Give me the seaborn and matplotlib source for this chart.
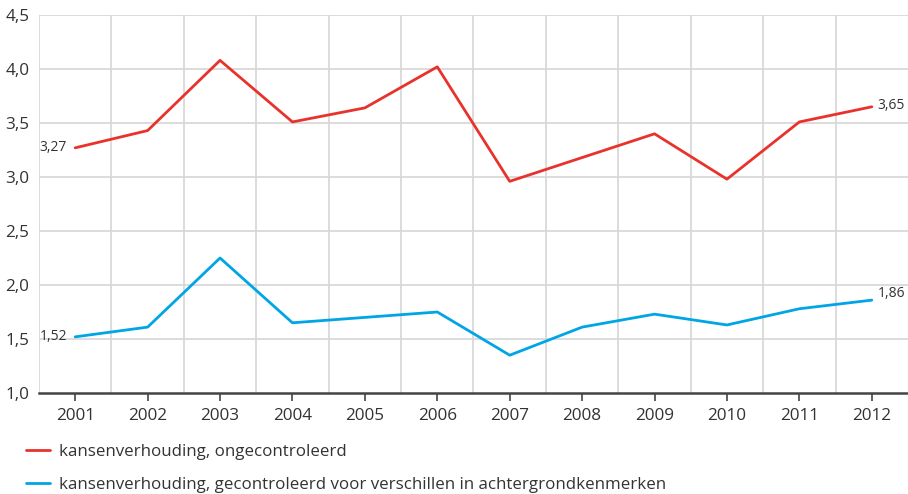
import matplotlib
matplotlib.use("Agg")
import matplotlib.pyplot as plt
import matplotlib.ticker as mticker
import seaborn as sns
import pandas as pd

# Data
years = ["2001", "2002", "2003", "2004", "2005", "2006",
         "2007", "2008", "2009", "2010", "2011", "2012"]
uncontrolled = [3.27, 3.43, 4.08, 3.51, 3.64, 4.02, 2.96, 3.18, 3.40, 2.98, 3.51, 3.65]
controlled = [1.52, 1.61, 2.25, 1.65, 1.70, 1.75, 1.35, 1.61, 1.73, 1.63, 1.78, 1.86]
series_names = [
    "kansenverhouding, ongecontroleerd",
    "kansenverhouding, gecontroleerd voor verschillen in achtergrondkenmerken",
]
y_ticks = [1.0, 1.5, 2.0, 2.5, 3.0, 3.5, 4.0, 4.5]

RED = "#e8322b"
BLUE = "#00a5e5"
TEXT = "#333333"
GRID = "#d6d6d6"

df = pd.DataFrame({
    "pos": list(range(len(years))) * 2,
    "value": uncontrolled + controlled,
    "serie": [series_names[0]] * len(years) + [series_names[1]] * len(years),
})

sns.set_theme(style="white")
plt.rcParams["font.family"] = ["Open Sans", "DejaVu Sans"]

fig = plt.figure(figsize=(9.08, 4.94), dpi=100)
ax = fig.add_axes([39 / 908, 101 / 494, 869 / 908, 378 / 494])

sns.lineplot(data=df, x="pos", y="value", hue="serie",
             palette=[RED, BLUE], linewidth=2.0, ax=ax, legend=True,
             zorder=3)

ax.set_xlim(-0.5, len(years) - 0.5)
ax.set_ylim(1.0, 4.5)

# Horizontal grid lines at the y ticks
for yv in y_ticks[1:]:
    ax.axhline(yv, color=GRID, linewidth=1.2, zorder=1)
# Vertical grid lines between the years
for xv in [i - 0.5 for i in range(len(years))]:
    ax.axvline(xv, color=GRID, linewidth=1.2, zorder=1)

ax.set_xticks(range(len(years)))
ax.set_xticklabels(years)
ax.set_yticks(y_ticks)
ax.yaxis.set_major_formatter(
    mticker.FuncFormatter(lambda v, p: f"{v:.1f}".replace(".", ",")))
ax.tick_params(axis="x", which="major", direction="out", length=6, width=1.2,
               color="#444444", labelsize=12.3, labelcolor=TEXT, pad=5,
               bottom=True)
ax.tick_params(axis="y", length=0, labelsize=12.3, labelcolor=TEXT, pad=7)
ax.set_xlabel("")
ax.set_ylabel("")

for side in ["top", "right", "left"]:
    ax.spines[side].set_visible(False)
ax.spines["bottom"].set_color("#444444")
ax.spines["bottom"].set_linewidth(1.8)
ax.spines["bottom"].set_zorder(4)

# End-point value labels
def fmt(v):
    return f"{v:.2f}".replace(".", ",")

ax.annotate(fmt(uncontrolled[0]), (0, uncontrolled[0]), xytext=(-6, 0),
            textcoords="offset points", ha="right", va="center",
            fontsize=10, color=TEXT)
ax.annotate(fmt(controlled[0]), (0, controlled[0]), xytext=(-6, 0),
            textcoords="offset points", ha="right", va="center",
            fontsize=10, color=TEXT)
ax.annotate(fmt(uncontrolled[-1]), (len(years) - 1, uncontrolled[-1]),
            xytext=(4, 1), textcoords="offset points", ha="left",
            va="center", fontsize=10, color=TEXT)
ax.annotate(fmt(controlled[-1]), (len(years) - 1, controlled[-1]),
            xytext=(4, 5), textcoords="offset points", ha="left",
            va="center", fontsize=10, color=TEXT)

# Legend below the chart
handles, labels = ax.get_legend_handles_labels()
ax.get_legend().remove()
leg = fig.legend(handles, labels, loc="upper left",
                 bbox_to_anchor=(26 / 908, 1 - 444 / 494),
                 frameon=False, fontsize=12.2, handlelength=1.4,
                 handletextpad=0.55, labelspacing=1.02, borderpad=0,
                 borderaxespad=0)
for t in leg.get_texts():
    t.set_color(TEXT)

fig.savefig("out.png", dpi=100)
